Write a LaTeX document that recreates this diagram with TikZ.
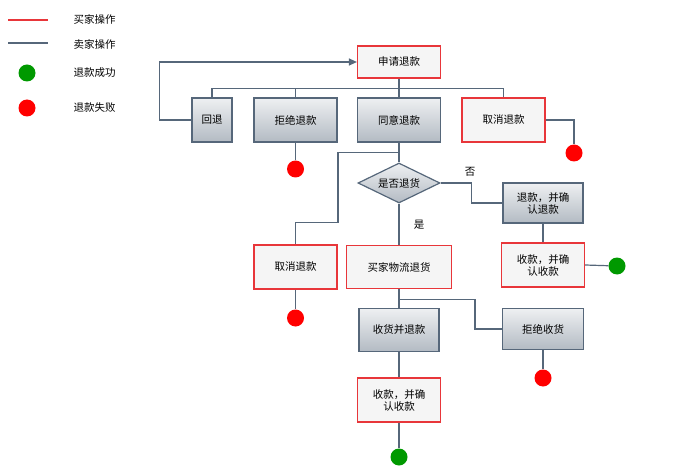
\documentclass[tikz,border=0pt]{standalone}
\usepackage{fontspec}
\newfontfamily\cjk{Noto Sans CJK SC}
\usetikzlibrary{shapes.geometric,arrows.meta}
\definecolor{ln}{HTML}{56677A}
\definecolor{rb}{HTML}{E8363A}
\begin{document}
\begin{tikzpicture}[x=1pt,y=-1pt,font=\cjk\fontsize{10.5}{12}\selectfont,
  bbox/.style={draw=ln,line width=1.2pt,top color=white!90!ln,bottom color=ln!45,minimum height=44pt,align=center,inner sep=1pt},
  rbox/.style={draw=rb,line width=1.2pt,fill=gray!8,minimum height=44pt,align=center,inner sep=1pt},
  con/.style={draw=ln,line width=1.2pt},
  rdot/.style={circle,fill=red,minimum size=17pt,inner sep=0pt},
  gdot/.style={circle,fill=green!60!black,minimum size=17pt,inner sep=0pt}]
\useasboundingbox (0,0) rectangle (700,470);
% legend
\coordinate (l1a) at (8,20); \coordinate (l1b) at (48,20);
\coordinate (l2a) at (8,43); \coordinate (l2b) at (48,43);
\draw[rb,line width=1.4pt] (l1a) -- (l1b);
\draw[ln,line width=1.4pt] (l2a) -- (l2b);
\node[gdot] (lg) at (27,73) {};
\node[rdot] (lr) at (27,108) {};
\node[anchor=west] (t1) at (70,19) {买家操作};
\node[anchor=west] (t2) at (70,44) {卖家操作};
\node[anchor=west] (t3) at (70,73) {退款成功};
\node[anchor=west] (t4) at (70,108) {退款失败};
% nodes
\node[rbox,minimum width=83pt,minimum height=32pt] (apply) at (399,62) {申请退款};
\node[bbox,minimum width=40pt] (back) at (212,120) {回退};
\node[bbox,minimum width=83pt] (reject) at (295.5,120) {拒绝退款};
\node[bbox,minimum width=83pt] (agree) at (399,120) {同意退款};
\node[rbox,minimum width=83pt] (cancel1) at (503.5,120) {取消退款};
\node[rdot] (d1) at (295.5,169) {};
\node[rdot] (d2) at (574,153) {};
\node[diamond,draw=ln,line width=1.2pt,top color=white!90!ln,bottom color=ln!45,aspect=2.1,minimum width=82pt,minimum height=40pt,inner sep=0pt] (q) at (399,183) {是否退货};
\node[bbox,minimum width=80pt,minimum height=40pt] (refund) at (543,203) {退款，并确\\认退款};
\node (no) at (470,172) {否};
\node (yes) at (419,225) {是};
\node[rbox,minimum width=83pt] (recv1) at (543,265) {收款，并确\\认收款};
\node[gdot] (g1) at (617,266) {};
\node[rbox,minimum width=83pt] (cancel2) at (295.5,267) {取消退款};
\node[rdot] (d3) at (295.5,318) {};
\node[rbox,minimum width=105pt,minimum height=43pt] (ship) at (399,267) {买家物流退货};
\node[bbox,minimum width=80pt,minimum height=43pt] (got) at (399,330) {收货并退款};
\node[bbox,minimum width=81pt,minimum height=41pt] (refuse) at (543,329) {拒绝收货};
\node[rdot] (d4) at (543,378) {};
\node[rbox,minimum width=83pt] (recv2) at (399,400) {收款，并确\\认收款};
\node[gdot] (g2) at (399,457) {};
% connectors
\draw[con,-{Triangle[length=8pt,width=7pt]}] (back.west) -- ++(-32,0) |- (apply.west);
\draw[con] (apply.south) -- ++(0,10) coordinate (bus);
\draw[con] (back.north) |- (bus) -| (cancel1.north);
\draw[con] (reject.north) -- (reject.north |- bus);
\draw[con] (bus) -- (agree.north);
\draw[con] (reject.south) -- (d1);
\draw[con] (cancel1.east) -| (d2);
\draw[con] (agree.south) -- (q.north);
\draw[con] (agree.south) ++(0,10) -- ++(-61,0) -- ++(0,70) -| (cancel2.north);
\draw[con] (q.east) -- ++(31,0) |- (refund.west);
\draw[con] (refund.south) -- (recv1.north);
\draw[con] (recv1.east) -- (g1);
\draw[con] (cancel2.south) -- (d3);
\draw[con] (q.south) -- (ship.north);
\draw[con] (ship.south) -- (got.north);
\draw[con] (ship.south) ++(0,10) -- ++(76,0) |- (refuse.west);
\draw[con] (refuse.south) -- (d4);
\draw[con] (got.south) -- (recv2.north);
\draw[con] (recv2.south) -- (g2);
\end{tikzpicture}
\end{document}
